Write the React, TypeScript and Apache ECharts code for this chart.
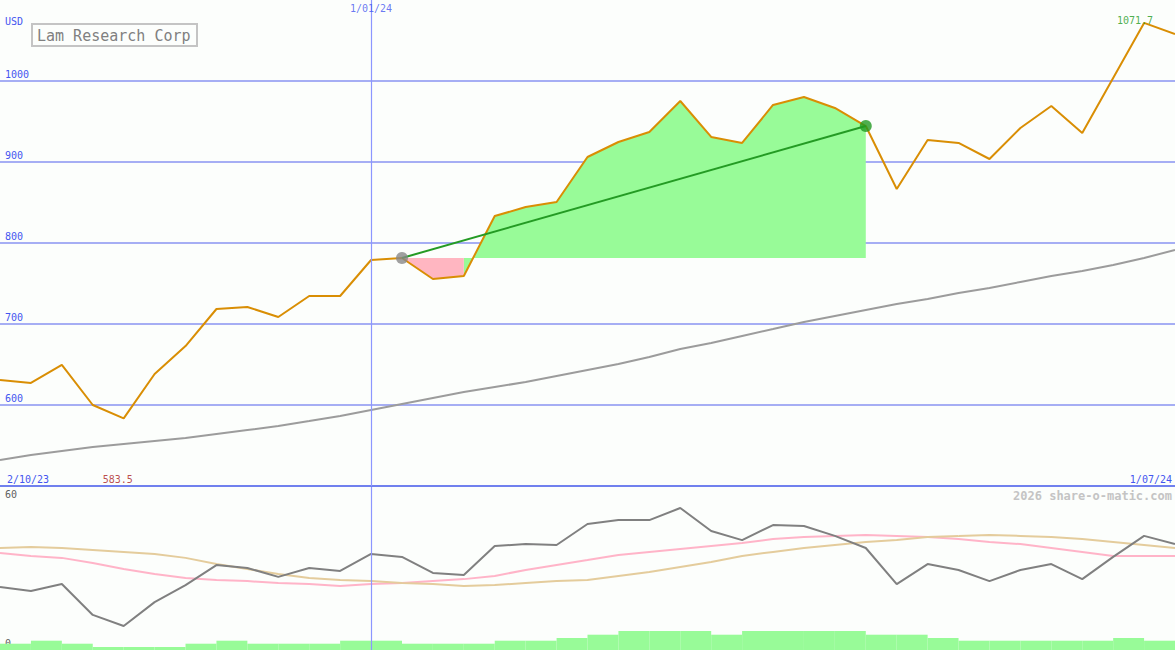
import React, { useEffect, useRef } from "react";
import * as echarts from "echarts";

// Weekly dates (d/mm/yy)
const dates = [
  "9/10/23", "16/10/23", "23/10/23", "30/10/23", "6/11/23", "13/11/23", "20/11/23", "27/11/23",
  "4/12/23", "11/12/23", "18/12/23", "25/12/23", "1/01/24", "8/01/24", "15/01/24", "22/01/24",
  "29/01/24", "5/02/24", "12/02/24", "19/02/24", "26/02/24", "4/03/24", "11/03/24", "18/03/24",
  "25/03/24", "1/04/24", "8/04/24", "15/04/24", "22/04/24", "29/04/24", "6/05/24", "13/05/24",
  "20/05/24", "27/05/24", "3/06/24", "10/06/24", "17/06/24", "24/06/24", "1/07/24",
];

// Close price (USD)
const price = [
  630.9, 627.2, 649.4, 600.0, 583.5, 638.3, 672.8, 718.5, 721.0, 708.6,
  734.6, 734.6, 779.0, 781.5, 755.6, 759.3, 833.3, 844.4, 850.6, 906.2,
  924.7, 937.0, 975.3, 930.9, 923.5, 970.4, 980.2, 966.7, 944.4, 866.7,
  927.2, 923.5, 903.7, 942.0, 969.1, 935.8, 1003.7, 1071.7, 1058.0,
];

// Long moving average (grey)
const movingAvg = [
  532.1, 538.3, 543.2, 548.1, 551.9, 555.6, 559.3, 564.2, 569.1, 574.1,
  580.2, 586.4, 593.8, 601.2, 608.6, 616.0, 622.2, 628.4, 635.8, 643.2,
  650.6, 659.3, 669.1, 676.5, 685.2, 693.8, 702.5, 709.9, 717.3, 724.7,
  730.9, 738.3, 744.4, 751.9, 759.3, 765.4, 772.8, 781.5, 791.4,
];

// Lower panel oscillator lines
const oscGray = [
  25.5, 23.9, 26.7, 14.2, 9.7, 19.4, 26.3, 34.4, 33.2, 29.6,
  33.2, 32.0, 38.9, 37.7, 31.2, 30.4, 42.1, 42.9, 42.5, 51.0,
  52.6, 52.6, 57.5, 48.2, 44.5, 50.6, 50.2, 46.2, 41.3, 26.7,
  34.8, 32.4, 27.9, 32.4, 34.8, 28.7, 37.7, 46.2, 42.9,
];
const oscPink = [
  39.3, 38.1, 37.3, 35.2, 32.8, 30.8, 29.2, 28.3, 27.9, 27.1,
  26.7, 25.9, 26.7, 27.1, 27.9, 28.7, 30.0, 32.4, 34.4, 36.4,
  38.5, 39.7, 40.9, 42.1, 43.3, 44.9, 45.8, 46.2, 46.6, 46.2,
  45.8, 44.9, 43.7, 42.9, 41.3, 39.7, 38.1, 38.1, 38.1,
];
const oscTan = [
  41.3, 41.7, 41.3, 40.5, 39.7, 38.9, 37.3, 34.8, 32.8, 30.8,
  29.2, 28.3, 27.9, 27.1, 26.7, 25.9, 26.3, 27.1, 27.9, 28.3,
  30.0, 31.6, 33.6, 35.6, 38.1, 39.7, 41.3, 42.5, 43.7, 44.5,
  45.8, 46.2, 46.6, 46.2, 45.8, 44.9, 43.7, 42.5, 41.3,
];

// Weekly volume (one bar per week interval)
const volume = [
  6.3, 9.3, 6.3, 3.0, 3.0, 3.0, 6.3, 9.3, 6.3, 6.3,
  6.3, 9.3, 9.3, 6.3, 6.3, 6.3, 9.3, 9.3, 12.0, 15.3,
  19.0, 19.0, 19.0, 15.3, 19.0, 19.0, 19.0, 19.0, 15.3, 15.3,
  12.0, 9.3, 9.3, 9.3, 9.3, 9.3, 12.0, 9.3,
];

const priceTicks = [600, 700, 800, 900, 1000];
const oscTicks = [0, 60];
const yearMark = "1/01/24";
const rangeStartLabel = "2/10/23";
const rangeEndLabel = "1/07/24";
const trendStart = 13;
const trendEnd = 28;

const MONO = "'DejaVu Sans Mono', 'Liberation Mono', monospace";
const BLUE = "#4456f0";
const GRID_BLUE = "#a6aef4";
const VLINE = "#8c96ff";

export default function App() {
  const ref = useRef<HTMLDivElement>(null);

  useEffect(() => {
    const chart = echarts.init(ref.current!, null, { renderer: "svg" });
    const base = price[trendStart];
    // first point after the start that closes at/above the start level
    let firstUp = trendStart + 1;
    while (firstUp <= trendEnd && price[firstUp] < base) firstUp++;
    const pinkData = price.map((p, i) => (i >= trendStart && i <= firstUp - 1 ? p : null));
    const greenData = price.map((p, i) => (i >= firstUp - 1 && i <= trendEnd ? p : null));

    let maxI = 0;
    let minI = 0;
    price.forEach((p, i) => {
      if (p > price[maxI]) maxI = i;
      if (p < price[minI]) minI = i;
    });

    const vMark = {
      silent: true, symbol: "none", label: { show: false },
      lineStyle: { color: VLINE, width: 1.2, type: "solid", opacity: 1 },
      emphasis: { disabled: true },
      data: [{ xAxis: yearMark, lineStyle: { color: VLINE, width: 1.2, type: "solid" } }],
    };

    const option: any = {
      animation: false,
      backgroundColor: "#fcfefc",
      title: {
        text: "Lam Research Corp",
        left: 32,
        top: 24,
        borderColor: "#c4c4c4",
        borderWidth: 2,
        padding: [4, 7, 3, 5],
        textStyle: { color: "#808080", fontFamily: MONO, fontSize: 15, fontWeight: "normal" },
      },
      graphic: [
        { type: "text", x: 5, y: 21, style: { text: "USD", fill: BLUE, font: `10px ${MONO}`, verticalAlign: "middle" } },
        { type: "text", x: 7, y: 479, style: { text: rangeStartLabel, fill: BLUE, font: `10px ${MONO}`, verticalAlign: "middle" } },
        { type: "text", x: 1172, y: 479, style: { text: rangeEndLabel, fill: BLUE, font: `10px ${MONO}`, align: "right", verticalAlign: "middle" } },
        { type: "text", x: 1172, y: 496, style: { text: "2026 share-o-matic.com", fill: "#c4c4c4", font: `bold 12px ${MONO}`, align: "right", verticalAlign: "middle" } },
      ],
      grid: [
        { left: 0, right: 0, top: 0, height: 486 },
        { left: 0, right: 0, top: 487, height: 163 },
      ],
      xAxis: [
        {
          type: "category", gridIndex: 0, data: dates, boundaryGap: false,
          axisLine: { show: true, lineStyle: { color: "#7080ee", width: 2 } },
          axisTick: { show: false }, axisLabel: { show: false }, splitLine: { show: false },
        },
        {
          type: "category", gridIndex: 1, data: dates, boundaryGap: false,
          axisLine: { show: false }, axisTick: { show: false }, axisLabel: { show: false }, splitLine: { show: false },
        },
        {
          type: "category", gridIndex: 1, data: dates.slice(0, volume.length), boundaryGap: true,
          axisLine: { show: false }, axisTick: { show: false }, axisLabel: { show: false }, splitLine: { show: false },
        },
      ],
      yAxis: [
        {
          type: "value", gridIndex: 0, min: 500, max: 1100, interval: 100,
          axisLine: { show: false }, axisTick: { show: false },
          axisLabel: {
            inside: true, margin: 5, color: BLUE, fontFamily: MONO, fontSize: 10,
            verticalAlign: "bottom", padding: [0, 0, 2, 0],
            formatter: (v: number) => (priceTicks.includes(v) ? String(v) : ""),
          },
          splitLine: { show: true, showMinLine: false, showMaxLine: false, lineStyle: { color: GRID_BLUE, width: 2 } },
        },
        {
          type: "value", gridIndex: 1, min: 0, max: 66, interval: 60,
          axisLine: { show: false }, axisTick: { show: false },
          axisLabel: {
            inside: true, margin: 5, color: "#606060", fontFamily: MONO, fontSize: 10,
            verticalAlign: "bottom", padding: [0, 0, 2, 0],
            formatter: (v: number) => (oscTicks.includes(v) ? String(v) : ""),
          },
          splitLine: { show: false },
        },
        {
          type: "value", gridIndex: 1, min: 0, max: 163, show: false, splitLine: { show: false },
        },
      ],
      series: [
        {
          name: "YearLine", type: "line", xAxisIndex: 0, yAxisIndex: 0, data: [], symbol: "none", z: 1,
          markLine: vMark,
        },
        {
          name: "MA", type: "line", xAxisIndex: 0, yAxisIndex: 0, data: movingAvg, symbol: "none", z: 2,
          lineStyle: { color: "#9c9c9c", width: 2 },
        },
        {
          name: "Gain", type: "line", xAxisIndex: 0, yAxisIndex: 0, data: greenData,
          symbol: "none", lineStyle: { width: 0, opacity: 0 },
          areaStyle: { color: "#98fb98", opacity: 1, origin: base }, z: 3,
        },
        {
          name: "Loss", type: "line", xAxisIndex: 0, yAxisIndex: 0, data: pinkData,
          symbol: "none", lineStyle: { width: 0, opacity: 0 },
          areaStyle: { color: "#ffb6c1", opacity: 1, origin: base }, z: 3,
        },
        {
          name: "Price", type: "line", xAxisIndex: 0, yAxisIndex: 0, data: price, symbol: "none", z: 4,
          lineStyle: { color: "#d98e04", width: 2 },
        },
        {
          name: "Trend", type: "line", xAxisIndex: 0, yAxisIndex: 0, symbol: "none", z: 5,
          data: [[trendStart, price[trendStart]], [trendEnd, price[trendEnd]]],
          lineStyle: { color: "#249b24", width: 2 },
        },
        {
          name: "Dots", type: "scatter", xAxisIndex: 0, yAxisIndex: 0, symbolSize: 12, z: 6, clip: false,
          data: [
            { value: [trendStart, price[trendStart]], itemStyle: { color: "#888888" } },
            { value: [trendEnd, price[trendEnd]], itemStyle: { color: "#229a22" } },
          ],
        },
        {
          name: "Labels", type: "scatter", xAxisIndex: 0, yAxisIndex: 0, symbolSize: 0, z: 7, clip: false, silent: true,
          data: [
            {
              value: [yearMark, 1100],
              label: { show: true, position: "bottom", distance: 3, formatter: yearMark, color: BLUE },
            },
            {
              value: [maxI, price[maxI]],
              label: { show: true, position: "inside", offset: [-9, -2], formatter: price[maxI].toFixed(1), color: "#229a22" },
            },
            {
              value: [minI, 500],
              label: { show: true, position: "top", distance: 2, offset: [-6, 0], formatter: price[minI].toFixed(1), color: "#aa2020" },
            },
          ],
          label: { fontFamily: MONO, fontSize: 10 },
        },
        {
          name: "YearLine2", type: "line", xAxisIndex: 1, yAxisIndex: 1, data: [], symbol: "none", z: 1,
          markLine: vMark,
        },
        {
          name: "Pink", type: "line", xAxisIndex: 1, yAxisIndex: 1, data: oscPink, symbol: "none", z: 3,
          lineStyle: { color: "#ffb4c8", width: 2 },
        },
        {
          name: "Volume", type: "bar", xAxisIndex: 2, yAxisIndex: 2, data: volume, barWidth: "100%", z: 2,
          itemStyle: { color: "#98fb98" },
        },
        {
          name: "Tan", type: "line", xAxisIndex: 1, yAxisIndex: 1, data: oscTan, symbol: "none", z: 3,
          lineStyle: { color: "#e4cc9c", width: 2 },
        },
        {
          name: "Gray", type: "line", xAxisIndex: 1, yAxisIndex: 1, data: oscGray, symbol: "none", z: 3,
          lineStyle: { color: "#808080", width: 2 },
        },
      ],
    };

    chart.setOption(option);
    return () => chart.dispose();
  }, []);

  return (
    <div
      ref={ref}
      style={{ position: "absolute", left: 0, top: 0, width: 1175, height: 650 }}
    />
  );
}
